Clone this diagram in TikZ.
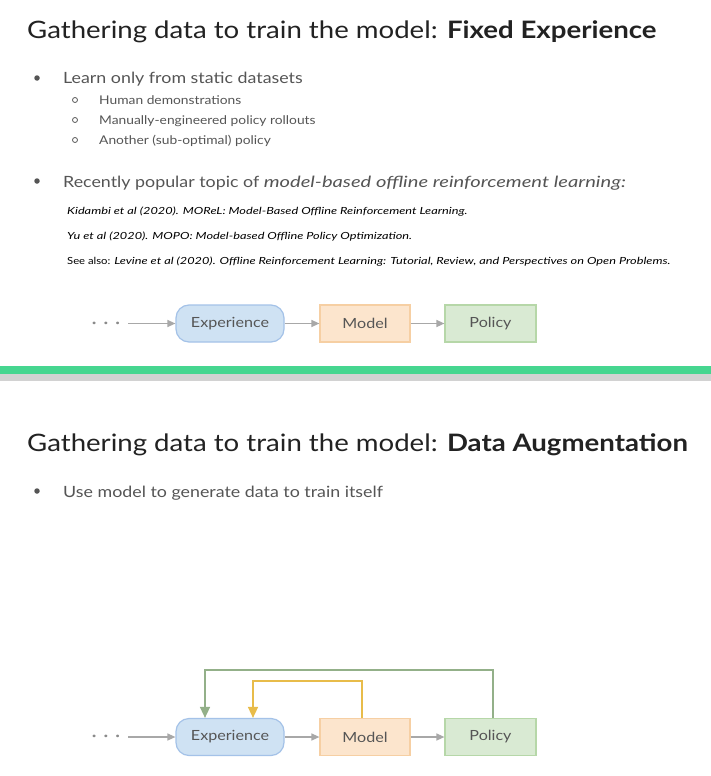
\documentclass[tikz,border=0pt]{standalone}
\usepackage{fontspec}
\setmainfont{Lato}[FakeStretch=1.15, ItalicFeatures={FakeStretch=1.3}, BoldItalicFeatures={FakeStretch=1.3}]
\usetikzlibrary{arrows.meta}
\definecolor{titlec}{HTML}{222222}
\definecolor{bodyc}{HTML}{555555}
\definecolor{expfill}{HTML}{CFE2F3}
\definecolor{expdraw}{HTML}{A4C2E8}
\definecolor{modfill}{HTML}{FCE5CD}
\definecolor{moddraw}{HTML}{F6CFA3}
\definecolor{polfill}{HTML}{D9EAD3}
\definecolor{poldraw}{HTML}{B6D7A8}
\definecolor{arrc}{HTML}{A8A8A8}
\definecolor{dotc}{HTML}{8A8A8A}
\definecolor{greenbar}{HTML}{46D690}
\definecolor{graybar}{HTML}{D2D2D2}
\definecolor{fbgreen}{HTML}{93B089}
\definecolor{fborange}{HTML}{E8BC4A}
\tikzset{
  title/.style={anchor=base west, inner sep=0pt, text=titlec, font=\fontsize{24}{28}\selectfont},
  bodytext/.style={anchor=base west, inner sep=0pt, text=bodyc, font=\fontsize{15.5}{19}\selectfont},
  subtext/.style={anchor=base west, inner sep=0pt, text=bodyc, font=\fontsize{12}{14}\selectfont},
  reftext/.style={anchor=base west, inner sep=0pt, text=black, font=\fontsize{9.8}{11}\selectfont},
  bul/.style={circle, fill=bodyc, minimum size=5.5pt, inner sep=0pt},
  subbul/.style={circle, draw=bodyc, line width=0.8pt, minimum size=5pt, inner sep=0pt},
  expbox/.style={rounded corners=13pt, fill=expfill, draw=expdraw, line width=1.2pt, minimum width=108pt, minimum height=37pt, text=bodyc, font=\fontsize{14}{16}\selectfont},
  modbox/.style={fill=modfill, draw=moddraw, line width=1.2pt, minimum width=90pt, minimum height=37pt, text=bodyc, font=\fontsize{14}{16}\selectfont},
  polbox/.style={fill=polfill, draw=poldraw, line width=1.2pt, minimum width=91pt, minimum height=37pt, text=bodyc, font=\fontsize{14}{16}\selectfont},
  dots/.style={text=dotc, font=\fontsize{7}{8}\selectfont, inner sep=0pt},
  flow/.style={draw=arrc, line width=1.3pt, -{Triangle[length=8pt,width=7pt]}},
  fbg/.style={draw=fbgreen, line width=1.5pt, -{Triangle[length=11pt,width=10pt]}},
  fbo/.style={draw=fborange, line width=1.5pt, -{Triangle[length=11pt,width=10pt]}},
}
\begin{document}
\begin{tikzpicture}[x=1pt,y=-1pt]
\useasboundingbox (0,0) rectangle (711,776);
\fill[white] (0,0) rectangle (711,776);
% ---------- slide 1
\node[title] (t1) at (27,38) {Gathering data to train the model: \textbf{Fixed Experience}};
\node[bul] (b1) at (37,78) {};
\node[bodytext] (l1) at (63,84) {Learn only from static datasets};
\node[subbul] (s1) at (75,100) {};
\node[subtext] (st1) at (99,104.5) {Human demonstrations};
\node[subbul] (s2) at (75,120) {};
\node[subtext] (st2) at (99,124.5) {Manually-engineered policy rollouts};
\node[subbul] (s3) at (75,140) {};
\node[subtext] (st3) at (99,144.5) {Another (sub-optimal) policy};
\node[bul] (b2) at (37,181) {};
\node[bodytext] (l2) at (63,187) {Recently popular topic of \textit{model-based offline reinforcement learning:}};
\node[reftext] (r1) at (67,214) {\textit{Kidambi et al (2020). MOReL: Model-Based Offline Reinforcement Learning.}};
\node[reftext] (r2) at (67,239) {\textit{Yu et al (2020). MOPO: Model-based Offline Policy Optimization.}};
\node[reftext] (r3) at (67,264) {See also: \textit{Levine et al (2020). Offline Reinforcement Learning: Tutorial, Review, and Perspectives on Open Problems.}};
% diagram 1
\node[dots] (d1) at (106,323.5) {\textbullet\hspace{7pt}\textbullet\hspace{7pt}\textbullet};
\node[expbox] (e1) at (230,323.5) {Experience};
\node[modbox] (m1) at (365,323.5) {Model};
\node[polbox] (p1) at (490.5,323.5) {Policy};
\coordinate (c1) at (128,323.5);
\draw[flow] (c1) -- (e1.west);
\draw[flow] (e1.east) -- (m1.west);
\draw[flow] (m1.east) -- (p1.west);
% separator
\fill[greenbar] (0,366) rectangle (711,374);
\fill[graybar] (0,374) rectangle (711,381);
% ---------- slide 2
\node[title] (t2) at (27,451) {Gathering data to train the model: \textbf{Data Augmentation}};
\node[bul] (b3) at (37,491) {};
\node[bodytext] (l3) at (63,497) {Use model to generate data to train itself};
% diagram 2
\node[dots] (d2) at (106,737) {\textbullet\hspace{7pt}\textbullet\hspace{7pt}\textbullet};
\node[expbox] (e2) at (230,737) {Experience};
\node[modbox] (m2) at (365,737) {Model};
\node[polbox] (p2) at (490.5,737) {Policy};
\coordinate (c2) at (128,737);
\draw[flow] (c2) -- (e2.west);
\draw[flow] (e2.east) -- (m2.west);
\draw[flow] (m2.east) -- (p2.west);
\coordinate (gtop) at (205,670);
\coordinate (otop) at (253,681);
\draw[fbg] ([xshift=2.5pt]p2.north) |- (gtop) -- ([xshift=-25pt]e2.north);
\draw[fbo] ([xshift=-3pt]m2.north) |- (otop) -- ([xshift=23pt]e2.north);
\end{tikzpicture}
\end{document}
